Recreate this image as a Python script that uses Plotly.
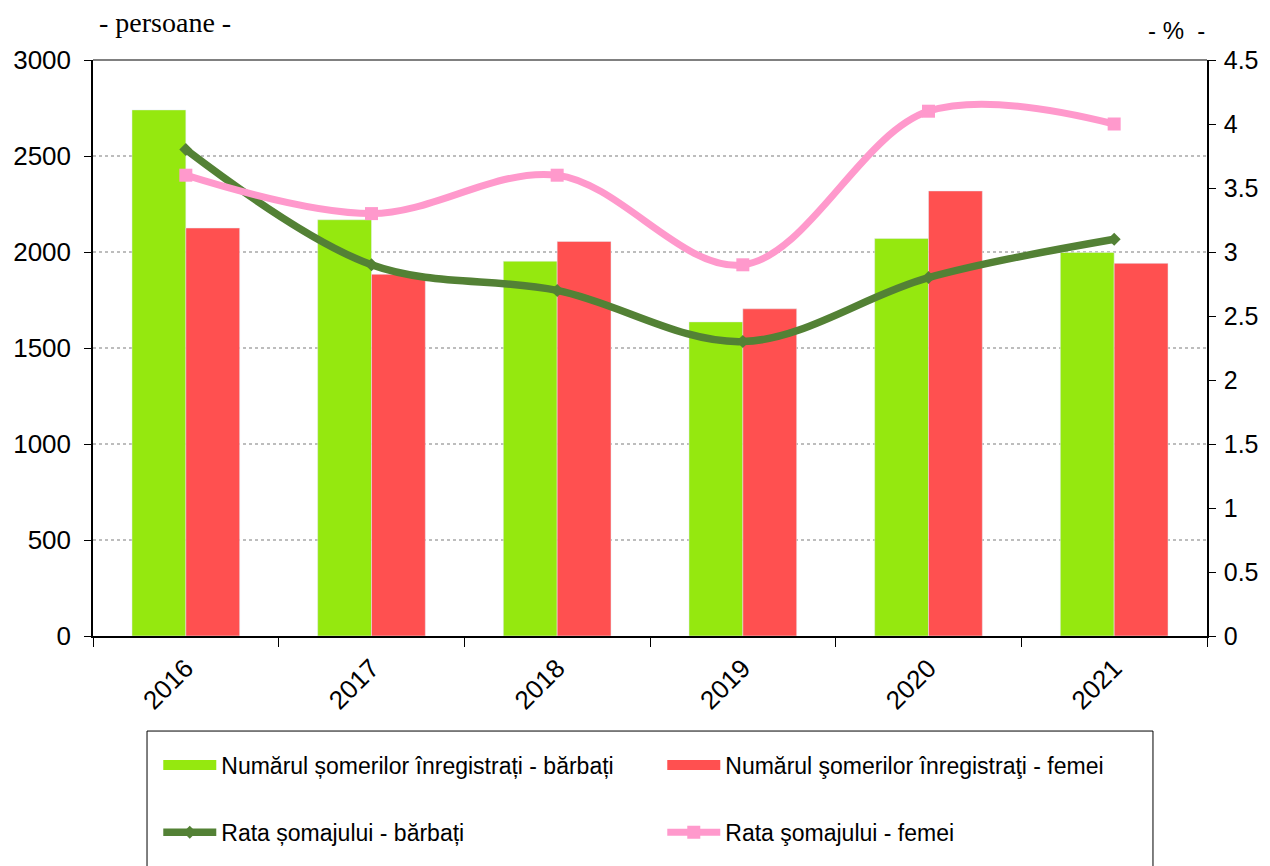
import plotly.graph_objects as go

years = ["2016", "2017", "2018", "2019", "2020", "2021"]
someri_barbati = [2740, 2168, 1952, 1636, 2070, 1998]
someri_femei = [2125, 1884, 2055, 1704, 2318, 1941]
rata_barbati = [3.8, 2.9, 2.7, 2.3, 2.8, 3.1]
rata_femei = [3.6, 3.3, 3.6, 2.9, 4.1, 4.0]

GREEN = "#95E80F"
RED = "#FF5050"
DARK = "#538135"
PINK = "#FF99CC"
FONT = "Liberation Sans, Arial, sans-serif"

fig = go.Figure()

fig.add_trace(go.Bar(x=years, y=someri_barbati, marker_color=GREEN, showlegend=False))
fig.add_trace(go.Bar(x=years, y=someri_femei, marker_color=RED, showlegend=False))

fig.add_trace(go.Scatter(x=years, y=rata_barbati, yaxis="y2", mode="lines+markers",
                         line=dict(color=DARK, width=7.5, shape="spline", smoothing=1),
                         marker=dict(symbol="diamond", size=10, color=DARK),
                         name="Rata șomajului - bărbați", legend="legend2"))
fig.add_trace(go.Scatter(x=years, y=rata_femei, yaxis="y2", mode="lines+markers",
                         line=dict(color=PINK, width=7, shape="spline", smoothing=1),
                         marker=dict(symbol="square", size=13, color=PINK),
                         name="Rata şomajului - femei", legend="legend2"))

# legend entries for the bars (wide rectangle look)
fig.add_trace(go.Scatter(x=[None], y=[None], mode="lines", line=dict(color=GREEN, width=16),
                         name="Numărul șomerilor înregistrați - bărbați", legend="legend"))
fig.add_trace(go.Scatter(x=[None], y=[None], mode="lines", line=dict(color=RED, width=16),
                         name="Numărul şomerilor înregistraţi - femei", legend="legend"))

leg = dict(orientation="h", xanchor="left", yanchor="middle", x=0.0586,
           entrywidth=436, entrywidthmode="pixels", itemwidth=53,
           bgcolor="rgba(0,0,0,0)", font=dict(family=FONT, size=23, color="black"))

# the page adds an 8px body margin, so the figure is 8px smaller and shifted
fig.update_layout(
    width=1262, height=858,
    margin=dict(l=85, r=63, t=52, b=225),
    paper_bgcolor="white", plot_bgcolor="white",
    font=dict(family=FONT, size=26, color="black"),
    barmode="group", bargap=0.42, bargroupgap=0,
    legend=dict(leg, y=-0.224),
    legend2=dict(leg, y=-0.341),
    xaxis=dict(type="category", showline=True, linecolor="black", linewidth=1.5,
               ticks="outside", tickson="boundaries", ticklen=9, tickcolor="black",
               tickangle=-45, tickfont=dict(size=26), ticklabelstandoff=5, showgrid=False,
               automargin=False),
    yaxis=dict(range=[0, 3000], dtick=500, showline=True, linecolor="black", linewidth=1.5,
               ticks="outside", ticklen=7, tickcolor="black", tickfont=dict(size=26),
               ticklabelstandoff=8, automargin=False,
               showgrid=True, gridcolor="#BDBDBD", gridwidth=2, griddash="dot", zeroline=False),
    yaxis2=dict(range=[0, 4.5], dtick=0.5, overlaying="y", side="right", showline=True,
                linecolor="black", linewidth=1.5, ticks="outside", ticklen=7, tickcolor="black",
                tickfont=dict(size=25), ticklabelstandoff=3, automargin=False,
                showgrid=False, zeroline=False),
    shapes=[
        dict(type="line", xref="paper", yref="paper", x0=0, x1=1, y0=1, y1=1,
             line=dict(color="#808080", width=2)),
        dict(type="rect", xref="paper", yref="paper", x0=0.0485, x1=0.9515, y0=-0.165, y1=-0.42,
             line=dict(color="black", width=1)),
    ],
    annotations=[
        dict(text="- persoane -", xref="paper", yref="paper", x=0.004, y=1.065,
             xanchor="left", yanchor="middle", showarrow=False,
             font=dict(family="Liberation Serif, Times New Roman, serif", size=28)),
        dict(text="- %  -", xref="paper", yref="paper", x=1.0, y=1.052,
             xanchor="right", yanchor="middle", showarrow=False, font=dict(size=24)),
    ],
)

fig.write_html("out.html")
